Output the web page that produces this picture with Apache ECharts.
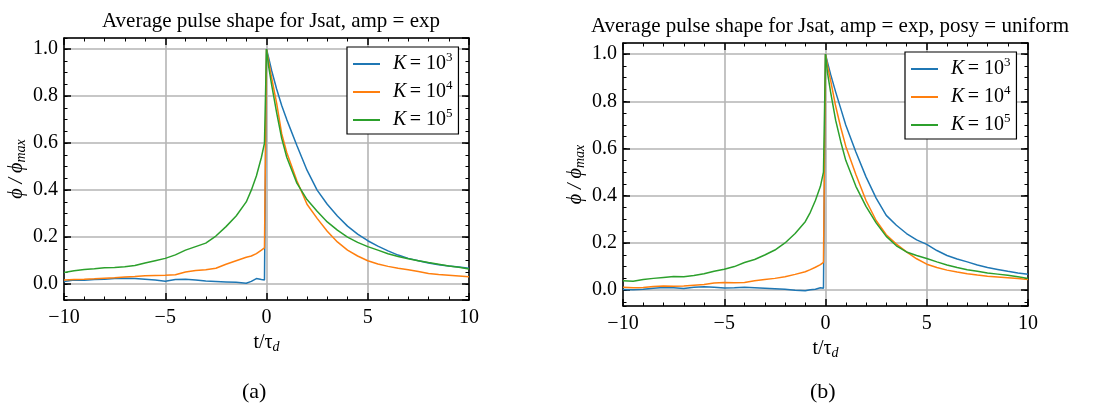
<!DOCTYPE html>
<html><head><meta charset="utf-8">
<script src="https://cdn.jsdelivr.net/npm/echarts@6/dist/echarts.min.js"></script>
<style>html,body{margin:0;padding:0;background:#fff}#c{width:1099px;height:411px}</style>
</head><body><div id="c"></div>
<script>
// time axis t/tau_d (shared by all curves)
const X = [-10,-9.5,-9,-8.5,-8,-7.5,-7,-6.5,-6,-5.5,-5,-4.5,-4,-3.5,-3,-2.5,-2,-1.5,-1,-0.75,-0.5,-0.25,-0.1,0,0.1,0.25,0.5,0.75,1,1.5,2,2.5,3,3.5,4,4.5,5,5.5,6,6.5,7,7.5,8,8.5,9,9.5,10];

// Panel (a): amp = exp
const blueA = [0.012,0.018,0.017,0.02,0.021,0.024,0.026,0.024,0.021,0.018,0.013,0.02,0.021,0.018,0.014,
  0.012,0.01,0.008,0.004, 0.012,0.024,0.02,0.018, 1.0, 0.965,0.91,0.83,0.76,0.70,
  0.59,0.485,0.4,0.34,0.29,0.247,0.213,0.185,0.162,0.142,0.124,0.11,0.1,0.09,0.083,0.078,0.073,0.068];
const orangeA = [0.018,0.02,0.021,0.023,0.026,0.028,0.031,0.033,0.036,0.037,0.038,0.04,0.052,0.058,0.062,
  0.068,0.085,0.1,0.115, 0.12,0.13,0.145,0.155, 1.0, 0.95,0.88,0.77,0.64,0.56,
  0.44,0.34,0.28,0.225,0.18,0.145,0.12,0.1,0.086,0.076,0.068,0.062,0.054,0.046,0.041,0.038,0.035,0.032];
const greenA = [0.05,0.057,0.063,0.066,0.07,0.071,0.074,0.08,0.09,0.1,0.11,0.125,0.145,0.16,0.175,
  0.205,0.245,0.29,0.35, 0.4,0.46,0.54,0.6, 1.0, 0.93,0.85,0.73,0.62,0.54,
  0.43,0.36,0.31,0.265,0.23,0.2,0.178,0.16,0.145,0.13,0.118,0.108,0.1,0.092,0.085,0.078,0.072,0.065];

// Panel (b): amp = exp, posy = uniform
const blueB = [0.003,0.002,0.004,0.008,0.011,0.01,0.007,0.012,0.015,0.012,0.009,0.01,0.012,0.01,0.008,
  0.006,0.004,0.0,-0.002, 0.002,0.004,0.01,0.008, 1.0, 0.965,0.915,0.84,0.77,0.70,
  0.585,0.48,0.39,0.317,0.275,0.24,0.213,0.194,0.168,0.147,0.132,0.12,0.107,0.096,0.088,0.08,0.073,0.067];
const orangeB = [0.012,0.01,0.011,0.016,0.018,0.017,0.018,0.021,0.024,0.03,0.033,0.031,0.033,0.04,0.045,
  0.05,0.057,0.067,0.078, 0.087,0.097,0.108,0.118, 1.0, 0.95,0.89,0.78,0.69,0.61,
  0.49,0.38,0.295,0.235,0.195,0.162,0.133,0.11,0.096,0.085,0.077,0.07,0.064,0.059,0.056,0.053,0.049,0.045];
const greenB = [0.04,0.038,0.045,0.05,0.054,0.058,0.057,0.062,0.07,0.08,0.089,0.1,0.117,0.13,0.149,
  0.17,0.2,0.24,0.29, 0.33,0.38,0.44,0.5, 1.0, 0.92,0.84,0.72,0.63,0.55,
  0.44,0.355,0.285,0.228,0.188,0.162,0.147,0.134,0.12,0.107,0.096,0.087,0.08,0.073,0.068,0.063,0.057,0.05];

const seriesNames = ['K = 10^3','K = 10^4','K = 10^5'];
const exponents = ['3','4','5'];
const colors = ['#1f77b4','#ff7f0e','#2ca02c'];
const titles = ['Average pulse shape for Jsat, amp = exp', 'Average pulse shape for Jsat, amp = exp, posy = uniform'];
const captions = ['(a)','(b)'];

const SERIF = '"Liberation Serif","DejaVu Serif",serif';
const pairs = ys => X.map((x,i)=>[x, ys[i]]);
const fmtX = v => (v < 0 ? '\u2212' + Math.abs(v) : String(v));

const grids = [
  {left:64, top:38, width:405, height:262},
  {left:623, top:43, width:405, height:263}
];
const YMIN = -0.067, YMAX = 1.047;

function xAx(g, pos, main){
  return {
    type:'value', gridIndex:g, position:pos, min:-10, max:10, interval:5,
    axisLine:{show:true, onZero:false, lineStyle:{color:'#000', width:1.5}},
    axisTick:{show:true, inside:true, length:7, lineStyle:{color:'#000', width:1.5}},
    minorTick:{show:true, splitNumber:5, length:3.5, lineStyle:{color:'#000', width:1}},
    axisLabel:{show:main, margin:8, color:'#000', fontFamily:SERIF, fontSize:20, formatter:fmtX},
    splitLine:{show:main, lineStyle:{color:'#b5b5b5', width:1.6}},
    name: main ? '{n|t/\u03c4}{d|d}' : '',
    nameLocation:'middle', nameGap:30,
    nameTextStyle:{rich:{n:{fontFamily:SERIF, fontSize:20, color:'#000'}, d:{fontFamily:SERIF, fontStyle:'italic', fontSize:14, color:'#000', verticalAlign:'bottom', padding:[8,0,0,0]}}}
  };
}
function yAx(g, pos, main){
  return {
    type:'value', gridIndex:g, position:pos, min:YMIN, max:YMAX, splitNumber:5, minInterval:0.2, maxInterval:0.2,
    axisLine:{show:true, onZero:false, lineStyle:{color:'#000', width:1.5}},
    axisTick:{show:true, inside:true, length:7, lineStyle:{color:'#000', width:1.5}},
    axisLabel:{show:main, margin:6, color:'#000', fontFamily:SERIF, fontSize:20, showMinLabel:false, showMaxLabel:false, formatter:v=>v.toFixed(1)},
    splitLine:{show:main, lineStyle:{color:'#b5b5b5', width:1.6}},
    name: main ? '{a|\u03d5 / \u03d5}{s|max}' : '',
    nameLocation:'middle', nameGap:36,
    nameTextStyle:{rich:{a:{fontFamily:SERIF, fontStyle:'italic', fontSize:20, color:'#000'}, s:{fontFamily:SERIF, fontStyle:'italic', fontSize:14, color:'#000', verticalAlign:'bottom', padding:[8,0,0,0]}}}
  };
}
function yMinor(g, pos){
  return {
    type:'value', gridIndex:g, position:pos, min:YMIN, max:YMAX, splitNumber:22, minInterval:0.05, maxInterval:0.05,
    axisLine:{show:false, onZero:false},
    axisTick:{show:true, inside:true, length:3.5, lineStyle:{color:'#000', width:1}},
    axisLabel:{show:false}, splitLine:{show:false}
  };
}

const xAxis = [xAx(0,'bottom',true), xAx(0,'top',false), xAx(1,'bottom',true), xAx(1,'top',false)];
const yAxis = [yAx(0,'left',true), yAx(0,'right',false), yMinor(0,'left'), yMinor(0,'right'),
               yAx(1,'left',true), yAx(1,'right',false), yMinor(1,'left'), yMinor(1,'right')];

const dataA = [blueA, orangeA, greenA], dataB = [blueB, orangeB, greenB];
const series = [];
[dataA, dataB].forEach((set, p) => {
  set.forEach((ys, k) => {
    series.push({
      type:'line', name:seriesNames[k], xAxisIndex:p*2, yAxisIndex:p*4,
      data:pairs(ys), showSymbol:false, symbol:'none', smooth:false,
      lineStyle:{color:colors[k], width:1.5}, itemStyle:{color:colors[k]}, z:3
    });
  });
});

const legendRich = {
  i:{fontFamily:SERIF, fontStyle:'italic', fontSize:20, color:'#000', padding:[0,0,0,8], lineHeight:26},
  n:{fontFamily:SERIF, fontSize:20, color:'#000', lineHeight:26},
  s:{fontFamily:SERIF, fontSize:13, color:'#000', verticalAlign:'top', lineHeight:10}
};
function legend(left, top){
  return {
    orient:'vertical', left:left, top:top, data:seriesNames, icon:'rect', itemWidth:27, itemHeight:2,
    itemGap:5, padding:[4,6,4,6], backgroundColor:'#fff', borderColor:'#000', borderWidth:1.2, borderRadius:0,
    selectedMode:false,
    formatter: name => '{i|K} {n|= 10}{s|' + exponents[seriesNames.indexOf(name)] + '}',
    textStyle:{rich:legendRich}
  };
}

const option = {
  animation:false,
  backgroundColor:'#fff',
  title:[
    {text:titles[0], left:266, top:6, textAlign:'center', textStyle:{fontFamily:SERIF, fontSize:21, fontWeight:'normal', color:'#000'}},
    {text:titles[1], left:825, top:11, textAlign:'center', textStyle:{fontFamily:SERIF, fontSize:21, fontWeight:'normal', color:'#000'}}
  ],
  grid:grids.map(g => Object.assign({containLabel:false}, g)),
  xAxis, yAxis,
  legend:[legend(347,47), legend(905,52)],
  series,
  graphic:[
    {type:'text', left:242, top:381, style:{text:captions[0], font:'22px ' + SERIF, fill:'#000'}},
    {type:'text', left:810, top:381, style:{text:captions[1], font:'22px ' + SERIF, fill:'#000'}}
  ]
};
const chart = echarts.init(document.getElementById('c'), null, {renderer:'canvas'});
chart.setOption(option);
</script>
</body></html>
